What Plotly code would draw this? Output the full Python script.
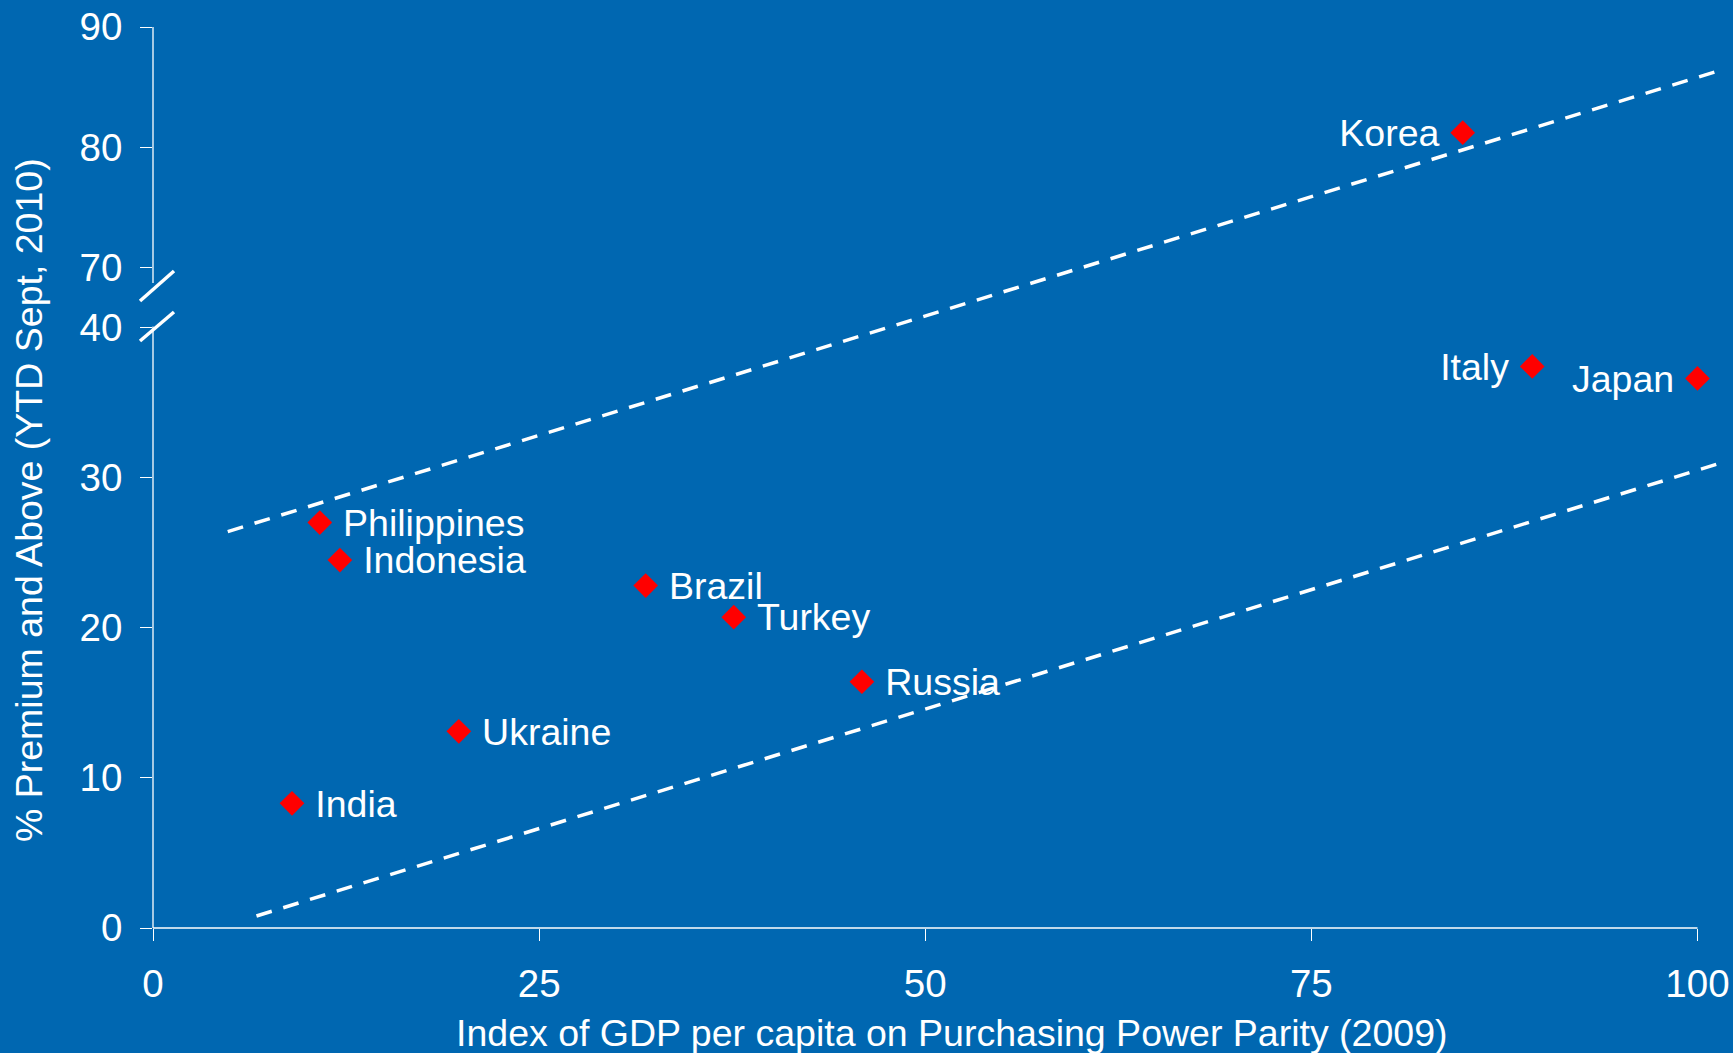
import plotly.graph_objects as go

# ---- data ----
countries = ["Korea", "Italy", "Japan", "Philippines", "Indonesia",
             "Brazil", "Turkey", "Russia", "Ukraine", "India"]
gdp_index = [84.8, 89.3, 100.0, 10.8, 12.1, 31.9, 37.6, 45.9, 19.8, 9.0]
premium_pct = [81.2, 37.4, 36.6, 27.0, 24.5, 22.8, 20.7, 16.4, 13.1, 8.3]
label_side = ["left", "left", "left", "right", "right",
              "right", "right", "right", "right", "right"]

upper_line_x = [4.84, 101.1]
upper_line_y = [26.4, 86.25]
lower_line_x = [6.7, 101.3]
lower_line_y = [0.8, 30.9]

y_tick_values = [0, 10, 20, 30, 40, 70, 80, 90]
x_tick_values = [0, 25, 50, 75, 100]

# broken axis: 0-40 linear, then 70-90 compressed above a gap
BREAK_LOW, BREAK_HIGH, OFFSET, UPPER_SCALE = 40, 70, 44, 0.8


def to_axis(v):
    if v <= BREAK_LOW:
        return v
    return OFFSET + (v - BREAK_HIGH) * UPPER_SCALE


BG = "rgb(0,103,177)"
FONT = "Liberation Sans, Arial, sans-serif"
NB = "\u00a0"
LABEL_DROP = 0.26  # visual centering of labels on markers (axis units)

texts = [(c + NB) if s == "left" else (NB + c) for c, s in zip(countries, label_side)]
positions = ["middle left" if s == "left" else "middle right" for s in label_side]
y_axis_vals = [to_axis(v) for v in premium_pct]

fig = go.Figure()
fig.add_trace(go.Scatter(
    x=gdp_index, y=y_axis_vals, mode="markers",
    marker=dict(symbol="diamond", size=19, color="#ff0000", line=dict(width=0)),
    cliponaxis=False, showlegend=False, hoverinfo="skip",
))
fig.add_trace(go.Scatter(
    x=gdp_index, y=[v - LABEL_DROP for v in y_axis_vals],
    mode="markers+text", text=texts, textposition=positions,
    textfont=dict(size=37.5, color="white", family=FONT),
    marker=dict(symbol="diamond", size=19, color="rgba(0,0,0,0)", line=dict(width=0)),
    cliponaxis=False, showlegend=False, hoverinfo="skip",
))
for lx, ly in [(upper_line_x, upper_line_y), (lower_line_x, lower_line_y)]:
    fig.add_trace(go.Scatter(
        x=lx, y=[to_axis(v) for v in ly], mode="lines",
        line=dict(color="white", width=3.5, dash="16px,12px"),
        showlegend=False, hoverinfo="skip",
    ))

W, H = 1733, 1053
L, R, T, B = 153, 0, 27, 125
pw, ph = W - L - R, H - T - B


def px_x(p):
    return (p - L) / pw


def px_y(p):
    return (H - B - p) / ph


shapes = [
    # y axis segments
    dict(type="line", xref="paper", yref="paper", x0=0, x1=0, y0=px_y(27), y1=px_y(283),
         line=dict(color="white", width=1.3)),
    dict(type="line", xref="paper", yref="paper", x0=0, x1=0, y0=0, y1=px_y(326.5),
         line=dict(color="white", width=1.3)),
    # x axis line from 0 to 100
    dict(type="line", xref="paper", yref="paper", x0=0, x1=100 / 102.3, y0=0, y1=0,
         line=dict(color="white", width=1.3)),
    # break marks
    dict(type="line", xref="paper", yref="paper", x0=px_x(140), x1=px_x(174),
         y0=px_y(301), y1=px_y(271), line=dict(color="white", width=3.5)),
    dict(type="line", xref="paper", yref="paper", x0=px_x(140), x1=px_x(174),
         y0=px_y(341), y1=px_y(312), line=dict(color="white", width=3.5)),
]

fig.update_layout(
    width=W, height=H,
    margin=dict(l=L, r=R, t=T, b=B, pad=0),
    paper_bgcolor=BG, plot_bgcolor=BG,
    font=dict(family=FONT, color="white", size=37.5),
    shapes=shapes,
    xaxis=dict(range=[0, 102.3], showgrid=False, zeroline=False, showline=False,
               tickmode="array", tickvals=x_tick_values,
               ticktext=[str(v) for v in x_tick_values],
               ticks="outside", ticklen=12, tickwidth=1.3, tickcolor="white",
               tickfont=dict(size=38.5, color="white", family=FONT),
               ticklabelstandoff=10),
    yaxis=dict(range=[0, 60], showgrid=False, zeroline=False, showline=False,
               tickmode="array", tickvals=[to_axis(v) for v in y_tick_values],
               ticktext=[str(v) for v in y_tick_values],
               ticks="outside", ticklen=12, tickwidth=1.3, tickcolor="white",
               tickfont=dict(size=38.5, color="white", family=FONT),
               ticklabelstandoff=10),
    annotations=[
        dict(text="% Premium and Above (YTD Sept, 2010)", xref="paper", yref="paper",
             x=px_x(29), y=px_y(500), xanchor="center", yanchor="middle",
             textangle=-90, showarrow=False,
             font=dict(size=37.5, color="white", family=FONT)),
        dict(text="Index of GDP per capita on Purchasing Power Parity (2009)",
             xref="paper", yref="paper", x=px_x(952), y=px_y(1033),
             xanchor="center", yanchor="middle", showarrow=False,
             font=dict(size=37.5, color="white", family=FONT)),
    ],
)

fig.write_html("out.html", config={"displayModeBar": False})
